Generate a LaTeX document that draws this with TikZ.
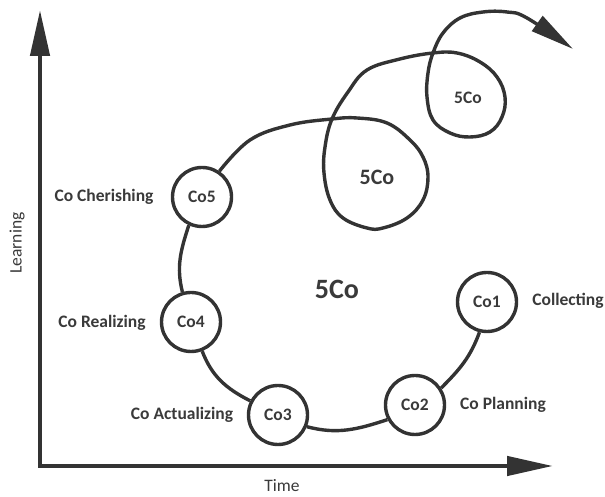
\documentclass[tikz,border=0pt]{standalone}
\usepackage{fontspec}
\setmainfont{Carlito}
\usetikzlibrary{arrows.meta}
\definecolor{ink}{HTML}{333333}
\definecolor{txt}{HTML}{3A3A3A}
\begin{document}
\begin{tikzpicture}[x=1pt,y=1pt,
  stage/.style={circle,draw=ink,line width=3.4pt,minimum size=59pt,inner sep=0pt,
    font=\bfseries\fontsize{17.5}{20}\selectfont,text=txt,fill=white},
  lab/.style={font=\bfseries\fontsize{17.5}{20}\selectfont,text=txt,inner sep=0pt},
  axlab/.style={font=\fontsize{17.5}{20}\selectfont,text=txt,inner sep=0pt},
  link/.style={draw=ink,line width=3.4pt},
  axis/.style={draw=ink,line width=4.5pt,line join=miter},
  bigtip/.style={-{Triangle[length=44pt,width=18pt]}},
]
\useasboundingbox (0,0) rectangle (605,497);
\coordinate (ytip) at (40,487);
\coordinate (o) at (40,31);
\coordinate (xtip) at (553,31);
\draw[axis,{Triangle[length=46pt,width=19pt]}-{Triangle[length=46pt,width=19pt]}] (ytip) -- (o) -- (xtip);
\node[axlab,rotate=90] (learn) at (17,254) {Learning};
\node[axlab] (time) at (282,11) {Time};

\node[stage] (co1) at (487,195) {Co1};
\node[stage] (co2) at (415,92) {Co2};
\node[stage] (co3) at (278,82) {Co3};
\node[stage] (co4) at (191,175) {Co4};
\node[stage] (co5) at (202,300) {Co5};

\node[lab] (l1) at (568,196) {Collecting};
\node[lab] (l2) at (503,92) {Co Planning};
\node[lab] (l3) at (182,82) {Co Actualizing};
\node[lab] (l4) at (102,174) {Co Realizing};
\node[lab] (l5) at (104,300) {Co Cherishing};

\node[lab,font=\bfseries\fontsize{28}{30}\selectfont] (c0) at (337,208) {5Co};
\node[lab,font=\bfseries\fontsize{22}{24}\selectfont] (c1) at (377,320) {5Co};
\node[lab] (c2) at (468,399) {5Co};

\draw[link] (co2.33) to[out=45,in=250] (co1.256);
\draw[link] (co3.-22) to[out=-15,in=-162] (co2.-152);
\draw[link] (co4.-69) to[out=-69,in=153] (co3.153);
\draw[link] (co5.-115) to[out=-108,in=104] (co4.106);

\coordinate (sptip) at (573,448);
\draw[link,bigtip] plot[smooth,tension=0.65] coordinates {
  (co5.56) (250,357) (290,372) (332,378) (357,379) (387,374) (410,357)
  (423,340) (428,320) (423,297) (407,279) (383,269) (367,269) (343,279)
  (330,297) (324,324) (325,350) (332,378) (348,405) (367,427) (400,438)
  (433,444) (457,444) (480,435) (497,420) (505,400) (502,380) (490,365)
  (470,360) (450,364) (433,377) (427,400) (428,424) (433,444) (443,464)
  (460,479) (483,485) (507,485) (527,479) (sptip)};
\end{tikzpicture}
\end{document}
